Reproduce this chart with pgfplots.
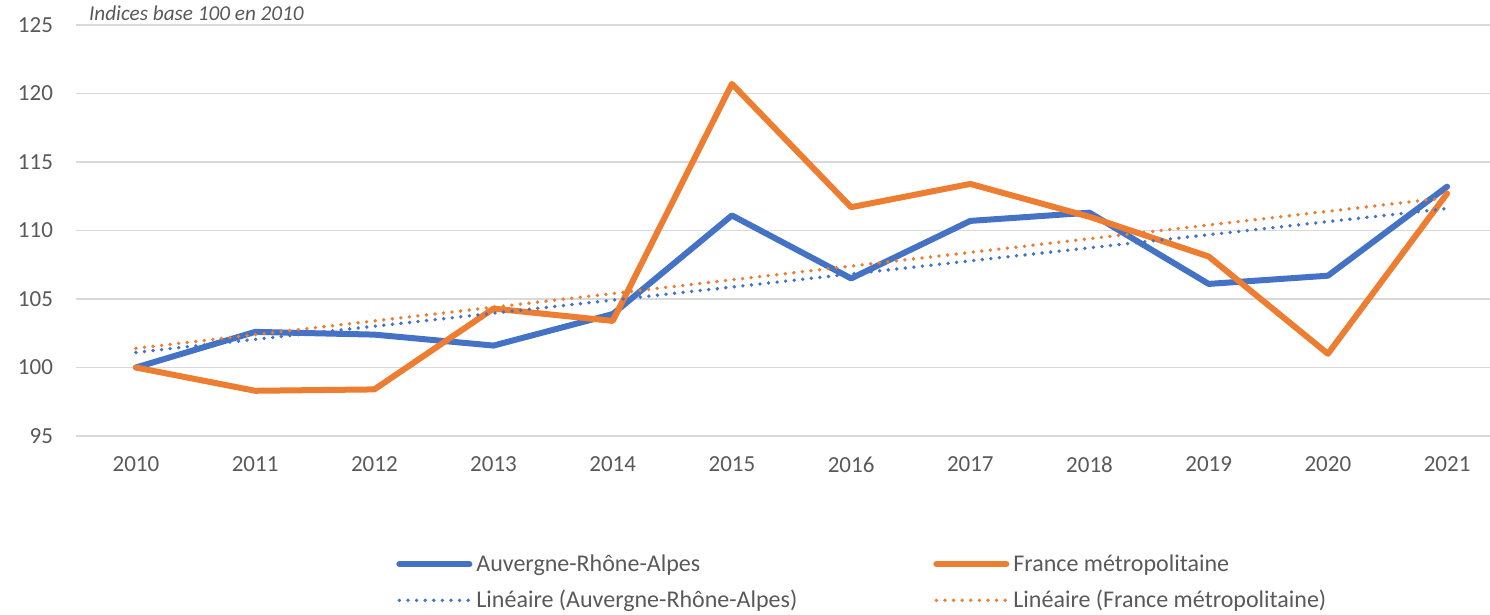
\documentclass[border=0pt]{standalone}
\usepackage{fontspec}
\setmainfont{Carlito}
\usepackage{pgfplots}
\pgfplotsset{compat=1.18}
\definecolor{arablue}{HTML}{4472C4}
\definecolor{frorange}{HTML}{ED7D31}
\definecolor{gridgray}{HTML}{D9D9D9}
\definecolor{txtgray}{HTML}{595959}

\begin{document}
\begin{tikzpicture}
\useasboundingbox (0,0) rectangle (745pt,307.5pt);
\begin{axis}[
  at={(38pt,89.5pt)}, anchor=south west,
  scale only axis, width=707pt, height=205.5pt,
  xmin=-0.503, xmax=11.36, ymin=95, ymax=125,
  xtick={0,...,11},
  xticklabels={2010,2011,2012,2013,2014,2015,2016,2017,2018,2019,2020,2021},
  ytick={95,100,...,125},
  ymajorgrids, grid style={gridgray, line width=0.75pt},
  axis line style={draw=none}, tick style={draw=none},
  tick label style={font=\fontsize{11.5}{13}\selectfont, text=txtgray},
  /pgf/number format/assume math mode=true,
  yticklabel style={xshift=-8pt},
  xticklabel style={yshift=-7pt},
  clip=false,
  legend columns=2,
  legend cell align=left,
  legend style={draw=none, fill=none, inner sep=0pt,
    at={(0.2263,-0.3564)}, anchor=west,
    font=\fontsize{12}{14}\selectfont, text=txtgray,
    nodes={inner sep=2pt}, /tikz/row sep=4pt},
  legend image code/.code={\draw[#1] (0pt,0pt) -- (35pt,0pt);},
]
  \addplot[arablue, line width=3pt, line join=round, line cap=round] coordinates {
    (0,100) (1,102.6) (2,102.4) (3,101.6) (4,103.9) (5,111.1)
    (6,106.5) (7,110.7) (8,111.3) (9,106.1) (10,106.7) (11,113.2)
  };
  \addlegendentry{\makebox[226.5pt][l]{Auvergne-Rhône-Alpes}}
  \addplot[frorange, line width=3pt, line join=round, line cap=round] coordinates {
    (0,100) (1,98.3) (2,98.4) (3,104.3) (4,103.4) (5,120.7)
    (6,111.7) (7,113.4) (8,111.0) (9,108.1) (10,101.0) (11,112.7)
  };
  \addlegendentry{France métropolitaine}
  \addplot[arablue, line width=1.9pt, line cap=round, dash pattern=on 0pt off 4.3pt]
    coordinates {(0,101.1) (11,111.6)};
  \addlegendentry{\makebox[226.5pt][l]{Linéaire (Auvergne-Rhône-Alpes)}}
  \addplot[frorange, line width=1.9pt, line cap=round, dash pattern=on 0pt off 4.3pt]
    coordinates {(0,101.4) (11,112.4)};
  \addlegendentry{Linéaire (France métropolitaine)}
\end{axis}
\node[anchor=base west, font=\itshape\fontsize{10.6}{12}\selectfont, text=txtgray]
  at (41pt,297pt) {Indices base 100 en 2010};
\end{tikzpicture}
\end{document}
